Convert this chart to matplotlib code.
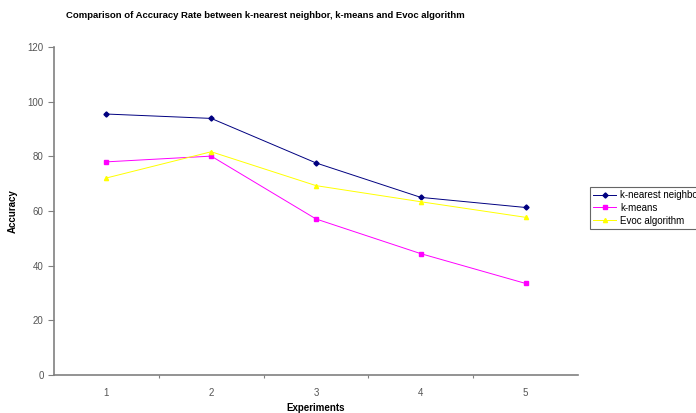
import matplotlib.pyplot as plt

plt.rcParams['font.family'] = ['Liberation Sans', 'DejaVu Sans']

# Accuracy per experiment for each algorithm
experiments = [1, 2, 3, 4, 5]
knn = [95.5, 93.9, 77.6, 65.0, 61.3]
kmeans = [78.0, 80.1, 57.1, 44.4, 33.5]
evoc = [72.1, 81.7, 69.3, 63.4, 57.7]

fig = plt.figure(figsize=(6.96, 4.13), dpi=100)
ax = fig.add_axes([0.0776, 0.092, 0.7529, 0.794])

ax.plot(experiments, knn, color='#000080', marker='D', markersize=2.6, lw=0.7,
        label='k-nearest neighbor')
ax.plot(experiments, kmeans, color='#ff00ff', marker='s', markersize=2.6, lw=0.7,
        label='k-means')
ax.plot(experiments, evoc, color='#ffff00', marker='^', markersize=3, lw=0.7,
        label='Evoc algorithm')

ax.set_xlim(0.5, 5.5)
ax.set_ylim(0, 120)
ax.set_yticks(range(0, 121, 20))
ax.set_xticks(experiments)
ax.set_xticks([1.5, 2.5, 3.5, 4.5], minor=True)

for side in ['top', 'right']:
    ax.spines[side].set_visible(False)
for side in ['left', 'bottom']:
    ax.spines[side].set_color('#808080')
    ax.spines[side].set_linewidth(1.2)

ax.tick_params(axis='y', colors='#808080', labelcolor='#555555', labelsize=7,
               length=4, width=0.8)
ax.tick_params(axis='x', which='major', length=0, labelsize=7,
               labelcolor='#555555', pad=9)
ax.tick_params(axis='x', which='minor', length=2, color='#808080', width=0.8)

ax.set_ylabel('Accuracy', fontsize=7, fontweight='bold')
ax.yaxis.set_label_coords(-0.069, 0.5)
ax.set_xlabel('Experiments', fontsize=7, fontweight='bold', labelpad=4)

fig.text(265 / 696, 1 - 15 / 413,
         'Comparison of Accuracy Rate between k-nearest neighbor, k-means and Evoc algorithm',
         ha='center', va='center', fontsize=6.8, fontweight='bold')

leg = fig.legend(loc='upper left', bbox_to_anchor=(590 / 696, 1 - 187 / 413),
                 fontsize=7, frameon=True, fancybox=False, handlelength=2.4,
                 borderpad=0.3, labelspacing=0.3, handletextpad=0.4,
                 borderaxespad=0)
leg.get_frame().set_edgecolor('#404040')
leg.get_frame().set_linewidth(0.8)

fig.savefig('out.png', dpi=100)
